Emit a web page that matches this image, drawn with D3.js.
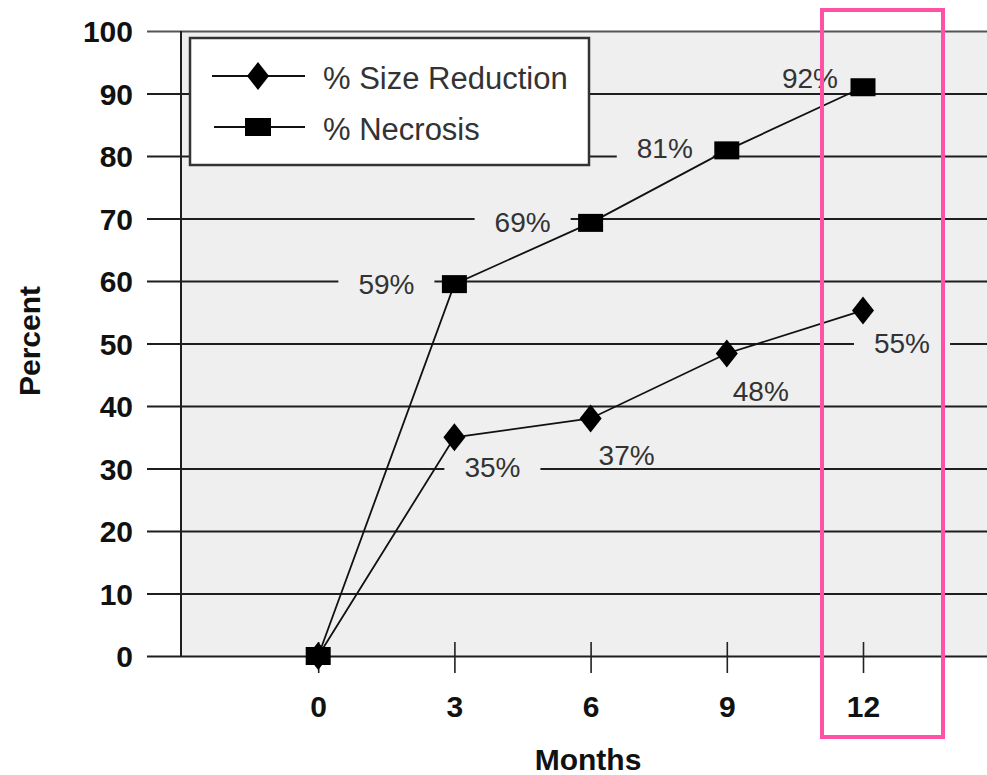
<!DOCTYPE html>
<html>
<head>
<meta charset="utf-8">
<script src="https://cdn.jsdelivr.net/npm/d3@7"></script>
<style>
  html, body { margin: 0; padding: 0; background: #ffffff; }
  svg { display: block; }
  text { font-family: "Liberation Sans", Arial, Helvetica, sans-serif; }
</style>
</head>
<body>
<svg id="chart" width="987" height="775"></svg>
<script>
// ---------- data ----------
const months = [0, 3, 6, 9, 12];
const sizeReduction = [0, 35, 38, 48.4, 55.3];
const sizeReductionLabels = ["", "35%", "37%", "48%", "55%"];
const necrosis = [0, 59.5, 69.3, 80.9, 91];
const necrosisLabels = ["", "59%", "69%", "81%", "92%"];
const yTicks = [0, 10, 20, 30, 40, 50, 60, 70, 80, 90, 100];
const xTicks = [0, 3, 6, 9, 12];
const seriesNames = ["% Size Reduction", "% Necrosis"];
const highlightMonth = 12;

// ---------- layout ----------
const plotLeft = 181, plotTop = 31, plotBottom = 656, plotRight = 987;
const gridStart = 147;
const sizeLabelOffsets = [[0, 0], [38, 40], [36, 46], [34, 47], [39, 43]];
const necLabelOffsets = [[0, 0], [-68, 10], [-68, 9], [-62, 8], [-53, 1]];
const labelFont = 28;

const svg = d3.select("#chart");
const gridLayer = svg.append("g");
const labelBgLayer = svg.append("g");
const seriesLayer = svg.append("g");
const labelTextLayer = svg.append("g");
const legendLayer = svg.append("g");

const x = d3.scaleLinear().domain([-3, 12]).range([182, 863]);
const y = d3.scaleLinear().domain([0, 100]).range([plotBottom, plotTop]);

// plot background
gridLayer.append("rect")
  .attr("x", plotLeft).attr("y", plotTop)
  .attr("width", plotRight - plotLeft).attr("height", plotBottom - plotTop)
  .attr("fill", "#efefef");

// y axis with gridlines
const yAxis = gridLayer.append("g")
  .attr("transform", `translate(${gridStart},0)`)
  .call(d3.axisLeft(y).tickValues(yTicks).tickSizeInner(-(plotRight - gridStart)).tickSizeOuter(0).tickPadding(14));
yAxis.select(".domain").remove();
yAxis.selectAll(".tick line")
  .attr("stroke", (d) => d === 100 ? "#555" : "#1e1e1e")
  .attr("stroke-width", 2);
yAxis.selectAll(".tick text")
  .attr("font-size", 30).attr("font-weight", "bold").attr("fill", "#111")
  .attr("dy", "0.36em")
  .style("font-family", '"Liberation Sans", Arial, sans-serif');

// vertical axis line
gridLayer.append("line")
  .attr("x1", plotLeft).attr("x2", plotLeft)
  .attr("y1", plotTop).attr("y2", plotBottom)
  .attr("stroke", "#1e1e1e").attr("stroke-width", 2);

// x axis ticks
const xAxis = gridLayer.append("g")
  .attr("transform", `translate(0,${plotBottom})`)
  .call(d3.axisBottom(x).tickValues(xTicks).tickSizeInner(17).tickSizeOuter(0).tickPadding(0));
xAxis.select(".domain").remove();
xAxis.selectAll(".tick line")
  .attr("y1", -14).attr("y2", 17)
  .attr("stroke", "#222").attr("stroke-width", 1.6);
xAxis.selectAll(".tick text")
  .attr("y", 61).attr("dy", 0)
  .attr("font-size", 30).attr("font-weight", "bold").attr("fill", "#111")
  .style("font-family", '"Liberation Sans", Arial, sans-serif');

// axis titles
gridLayer.append("text")
  .attr("x", 588).attr("y", 770)
  .attr("text-anchor", "middle")
  .attr("font-size", 30).attr("font-weight", "bold").attr("fill", "#111")
  .text("Months");
gridLayer.append("text")
  .attr("transform", "translate(40,341) rotate(-90)")
  .attr("text-anchor", "middle")
  .attr("font-size", 30).attr("font-weight", "bold").attr("fill", "#111")
  .text("Percent");

// data labels with backgrounds that break the gridlines
function labelData(values, labels, offsets) {
  return months.map((m, i) => ({
    cx: x(m) + offsets[i][0],
    by: y(values[i]) + offsets[i][1],
    text: labels[i]
  })).filter(d => d.text !== "");
}
const allLabels = labelData(sizeReduction, sizeReductionLabels, sizeLabelOffsets)
  .concat(labelData(necrosis, necrosisLabels, necLabelOffsets));

allLabels.forEach(d => {
  const t = labelTextLayer.append("text")
    .attr("x", d.cx).attr("y", d.by)
    .attr("text-anchor", "middle")
    .attr("font-size", labelFont).attr("fill", "#333")
    .text(d.text);
  const w = t.node().getComputedTextLength();
  const capH = labelFont * 0.72;
  labelBgLayer.append("rect")
    .attr("x", d.cx - w / 2 - 20).attr("y", d.by - capH - 3)
    .attr("width", w + 40).attr("height", capH + 5)
    .attr("fill", "#efefef");
});

// series lines
const line = d3.line().x((d, i) => x(months[i])).y(d => y(d));
seriesLayer.append("path").datum(sizeReduction)
  .attr("d", line).attr("fill", "none").attr("stroke", "#111").attr("stroke-width", 1.8);
seriesLayer.append("path").datum(necrosis)
  .attr("d", line).attr("fill", "none").attr("stroke", "#111").attr("stroke-width", 1.8);

// markers
const diamondPath = (cx, cy) => `M${cx},${cy - 14}L${cx + 11},${cy}L${cx},${cy + 14}L${cx - 11},${cy}Z`;
seriesLayer.append("g").selectAll("path").data(sizeReduction).join("path")
  .attr("d", (d, i) => diamondPath(x(months[i]), y(d)))
  .attr("fill", "#000");
seriesLayer.append("g").selectAll("rect").data(necrosis).join("rect")
  .attr("x", (d, i) => x(months[i]) - 12.5).attr("y", d => y(d) - 9)
  .attr("width", 25).attr("height", 18)
  .attr("fill", "#000");

// legend
legendLayer.append("rect")
  .attr("x", 190).attr("y", 38).attr("width", 399).attr("height", 127)
  .attr("fill", "#ffffff").attr("stroke", "#333").attr("stroke-width", 2.5);
legendLayer.append("line").attr("x1", 212).attr("x2", 305).attr("y1", 76).attr("y2", 76)
  .attr("stroke", "#111").attr("stroke-width", 1.8);
legendLayer.append("path").attr("d", diamondPath(258, 76)).attr("fill", "#000");
legendLayer.append("text").attr("x", 323).attr("y", 89)
  .attr("font-size", 31).attr("fill", "#333").text(seriesNames[0]);
legendLayer.append("line").attr("x1", 214).attr("x2", 305).attr("y1", 127).attr("y2", 127)
  .attr("stroke", "#111").attr("stroke-width", 1.8);
legendLayer.append("rect").attr("x", 245).attr("y", 118).attr("width", 26).attr("height", 18).attr("fill", "#000");
legendLayer.append("text").attr("x", 323).attr("y", 140)
  .attr("font-size", 31).attr("fill", "#333").text(seriesNames[1]);

// highlight box around month 12
legendLayer.append("rect")
  .attr("x", x(highlightMonth) - 41).attr("y", 10)
  .attr("width", 121).attr("height", 727)
  .attr("fill", "none").attr("stroke", "#ff52a6").attr("stroke-width", 4);
</script>
</body>
</html>
